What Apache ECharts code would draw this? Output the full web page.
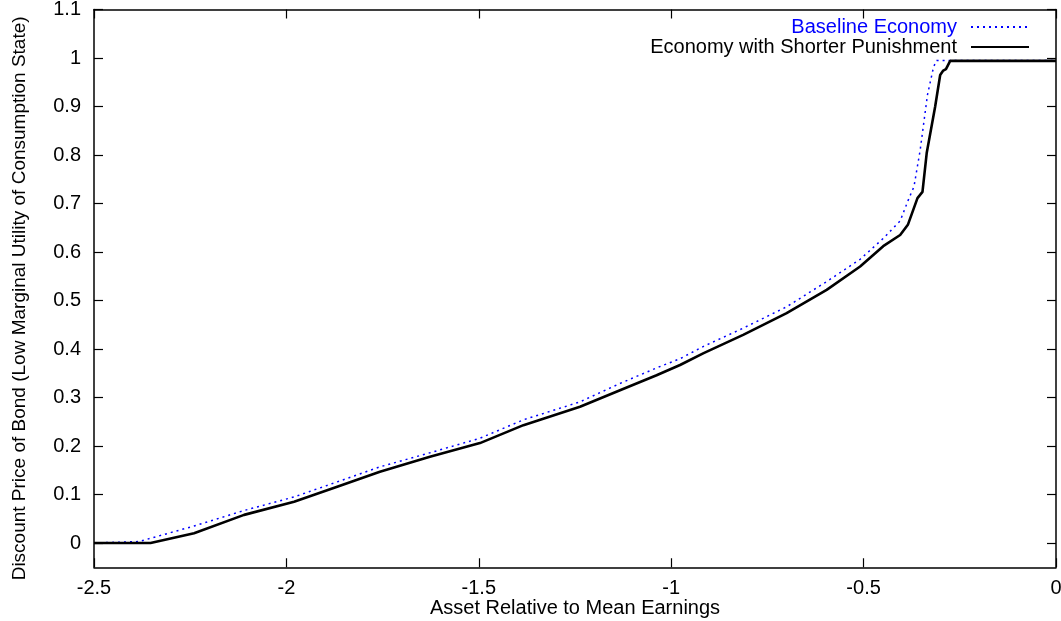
<!DOCTYPE html>
<html>
<head>
<meta charset="utf-8">
<script src="https://cdn.jsdelivr.net/npm/echarts@6/dist/echarts.min.js"></script>
<style>
html,body{margin:0;padding:0;background:#fff;}
#c{width:1061px;height:621px;}
</style>
</head>
<body>
<div id="c"></div>
<script>
var xTicks = [-2.5, -2, -1.5, -1, -0.5, 0];
var yTicks = [0, 0.1, 0.2, 0.3, 0.4, 0.5, 0.6, 0.7, 0.8, 0.9, 1, 1.1];

var baselineX = [-2.5, -2.383, -2.24, -2.11, -1.98, -1.868, -1.757, -1.627, -1.497, -1.384, -1.237, -1.133, -1.035, -0.977, -0.917, -0.813, -0.7, -0.596, -0.509, -0.449, -0.405, -0.384, -0.369, -0.353, -0.334, -0.318, -0.31, 0];
var baselineY = [0, 0.003, 0.035, 0.067, 0.095, 0.126, 0.157, 0.186, 0.216, 0.254, 0.291, 0.329, 0.362, 0.38, 0.405, 0.443, 0.487, 0.539, 0.585, 0.628, 0.664, 0.707, 0.735, 0.81, 0.924, 0.982, 0.995, 0.995];

var shorterX = [-2.5, -2.353, -2.24, -2.11, -1.98, -1.868, -1.757, -1.627, -1.497, -1.384, -1.237, -1.133, -1.038, -0.977, -0.917, -0.813, -0.7, -0.596, -0.509, -0.449, -0.405, -0.385, -0.36, -0.347, -0.336, -0.314, -0.301, -0.293, -0.286, -0.275, 0];
var shorterY = [0, 0, 0.02, 0.058, 0.085, 0.116, 0.147, 0.178, 0.206, 0.243, 0.281, 0.315, 0.346, 0.367, 0.391, 0.429, 0.474, 0.522, 0.570, 0.612, 0.635, 0.656, 0.711, 0.724, 0.804, 0.90, 0.965, 0.974, 0.977, 0.994, 0.994];

function pairs(xs, ys) { return xs.map(function (x, i) { return [x, ys[i]]; }); }

var font = 'Liberation Sans, Arial, Helvetica, sans-serif';
var axisLine = { show: true, onZero: false, lineStyle: { color: '#000', width: 1.5 } };
var tickStyle = { show: true, inside: true, length: 9, lineStyle: { color: '#000', width: 1.2 } };

var chart = echarts.init(document.getElementById('c'), null, { renderer: 'canvas' });
chart.setOption({
  backgroundColor: '#fff',
  animation: false,
  grid: { left: 94, right: 5, top: 9.5, bottom: 53.75, containLabel: false, outerBoundsMode: 'none' },
  legend: {
    orient: 'vertical',
    right: 26,
    top: 12,
    align: 'right',
    itemWidth: 58,
    itemHeight: 10,
    itemGap: 0,
    itemStyle: { opacity: 0 },
    textStyle: { fontFamily: font, fontSize: 20, lineHeight: 16, padding: [0, 9, 0, 0] },
    data: [
      { name: 'Baseline Economy', textStyle: { color: '#0000ff' } },
      { name: 'Economy with Shorter Punishment', textStyle: { color: '#000' } }
    ]
  },
  xAxis: [{
    type: 'value', position: 'bottom',
    min: -2.5, max: 0, interval: 0.5,
    name: 'Asset Relative to Mean Earnings',
    nameLocation: 'middle', nameGap: 31, nameMoveOverlap: false,
    nameTextStyle: { fontFamily: font, fontSize: 20, color: '#000' },
    axisLine: axisLine, axisTick: tickStyle,
    axisLabel: { fontFamily: font, fontSize: 20, color: '#000', margin: 11,
      customValues: xTicks, formatter: function (v) { return String(v); } },
    splitLine: { show: false }
  }, {
    type: 'value', position: 'top',
    min: -2.5, max: 0, interval: 0.5,
    axisLine: axisLine, axisTick: tickStyle,
    axisLabel: { show: false }, splitLine: { show: false }
  }],
  yAxis: [{
    type: 'value', position: 'left',
    min: -0.05, max: 1.1,
    name: 'Discount Price of Bond (Low Marginal Utility of Consumption State)',
    nameLocation: 'middle', nameGap: 65, nameRotate: 90, nameMoveOverlap: false,
    nameTextStyle: { fontFamily: font, fontSize: 19, color: '#000', padding: [0, 20, 0, 0] },
    axisLine: axisLine,
    axisTick: { show: true, inside: true, length: 9, lineStyle: { color: '#000', width: 1.2 }, customValues: yTicks },
    axisLabel: { fontFamily: font, fontSize: 20, color: '#000', margin: 13, customValues: yTicks,
      formatter: function (v) { return String(Math.round(v * 10) / 10); } },
    splitLine: { show: false }
  }, {
    type: 'value', position: 'right',
    min: -0.05, max: 1.1,
    axisLine: axisLine,
    axisTick: { show: true, inside: true, length: 9, lineStyle: { color: '#000', width: 1.2 }, customValues: yTicks },
    axisLabel: { show: false }, splitLine: { show: false }
  }],
  series: [{
    name: 'Baseline Economy',
    type: 'line',
    data: pairs(baselineX, baselineY),
    symbol: 'none',
    lineStyle: { color: '#0000ff', width: 1.5, type: [2, 4] },
    itemStyle: { color: '#0000ff' },
    z: 3
  }, {
    name: 'Economy with Shorter Punishment',
    type: 'line',
    data: pairs(shorterX, shorterY),
    symbol: 'none',
    lineStyle: { color: '#000', width: 2.6 },
    itemStyle: { color: '#000' },
    z: 4
  }]
});
</script>
</body>
</html>
